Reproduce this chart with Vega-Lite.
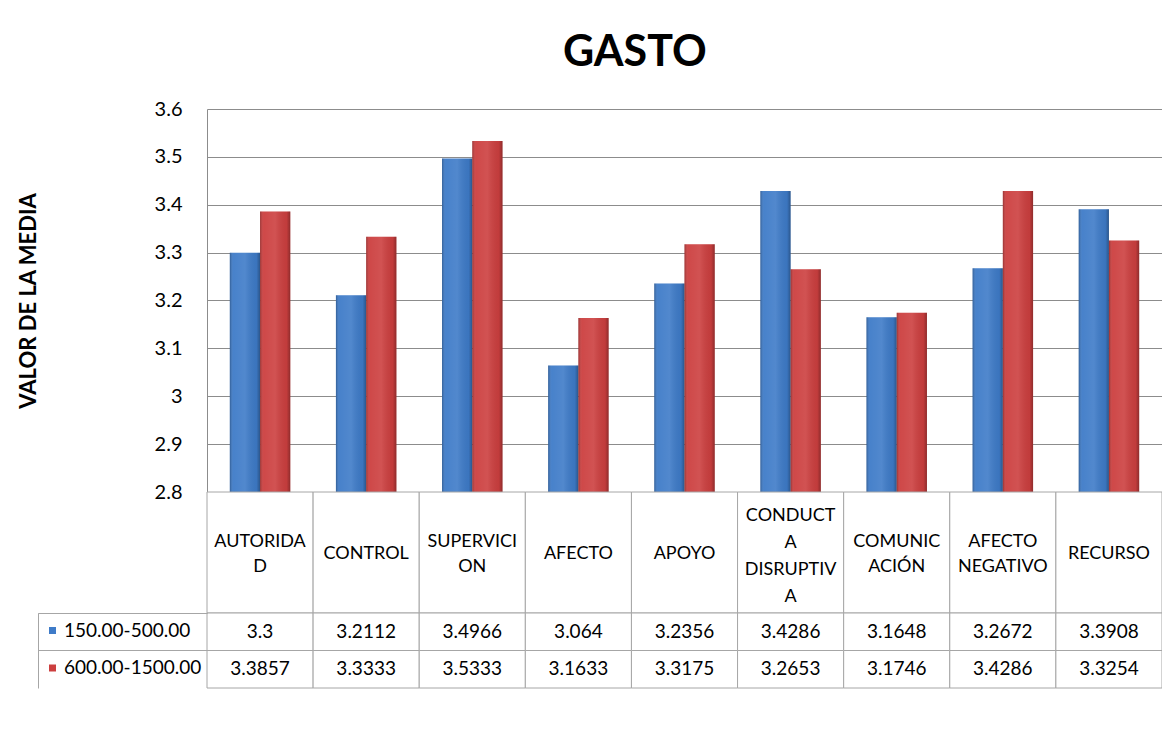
{
  "$schema": "https://vega.github.io/schema/vega-lite/v6.json",
  "background": "white",
  "padding": {"left": 17, "top": 32, "right": 0, "bottom": 0},
  "config": {"font": "Lato", "view": {"stroke": null}},
  "title": {"text": "GASTO", "fontSize": 43, "font": "Lato", "fontWeight": "bold", "color": "black", "anchor": "middle", "offset": 24, "dx": 45},
  "spacing": 0,
  "bounds": "flush",
  "datasets": {
    "medias": [
      {"categoria": "AUTORIDAD", "serie": "150.00-500.00", "valor": 3.3},
      {"categoria": "AUTORIDAD", "serie": "600.00-1500.00", "valor": 3.3857},
      {"categoria": "CONTROL", "serie": "150.00-500.00", "valor": 3.2112},
      {"categoria": "CONTROL", "serie": "600.00-1500.00", "valor": 3.3333},
      {"categoria": "SUPERVICION", "serie": "150.00-500.00", "valor": 3.4966},
      {"categoria": "SUPERVICION", "serie": "600.00-1500.00", "valor": 3.5333},
      {"categoria": "AFECTO", "serie": "150.00-500.00", "valor": 3.064},
      {"categoria": "AFECTO", "serie": "600.00-1500.00", "valor": 3.1633},
      {"categoria": "APOYO", "serie": "150.00-500.00", "valor": 3.2356},
      {"categoria": "APOYO", "serie": "600.00-1500.00", "valor": 3.3175},
      {"categoria": "CONDUCTA DISRUPTIVA", "serie": "150.00-500.00", "valor": 3.4286},
      {"categoria": "CONDUCTA DISRUPTIVA", "serie": "600.00-1500.00", "valor": 3.2653},
      {"categoria": "COMUNICACIÓN", "serie": "150.00-500.00", "valor": 3.1648},
      {"categoria": "COMUNICACIÓN", "serie": "600.00-1500.00", "valor": 3.1746},
      {"categoria": "AFECTO NEGATIVO", "serie": "150.00-500.00", "valor": 3.2672},
      {"categoria": "AFECTO NEGATIVO", "serie": "600.00-1500.00", "valor": 3.4286},
      {"categoria": "RECURSO", "serie": "150.00-500.00", "valor": 3.3908},
      {"categoria": "RECURSO", "serie": "600.00-1500.00", "valor": 3.3254}
    ],
    "categorias": [
      {"categoria": "AUTORIDAD", "etiqueta": "AUTORIDA\nD"},
      {"categoria": "CONTROL", "etiqueta": "CONTROL"},
      {"categoria": "SUPERVICION", "etiqueta": "SUPERVICI\nON"},
      {"categoria": "AFECTO", "etiqueta": "AFECTO"},
      {"categoria": "APOYO", "etiqueta": "APOYO"},
      {"categoria": "CONDUCTA DISRUPTIVA", "etiqueta": "CONDUCT\nA\nDISRUPTIV\nA"},
      {"categoria": "COMUNICACIÓN", "etiqueta": "COMUNIC\nACIÓN"},
      {"categoria": "AFECTO NEGATIVO", "etiqueta": "AFECTO\nNEGATIVO"},
      {"categoria": "RECURSO", "etiqueta": "RECURSO"}
    ]
  },
  "vconcat": [
    {
      "width": 955,
      "height": 383,
      "data": {"name": "medias"},
      "encoding": {
        "x": {"field": "categoria", "type": "nominal", "sort": null,
          "scale": {"domain": ["AUTORIDAD", "CONTROL", "SUPERVICION", "AFECTO", "APOYO", "CONDUCTA DISRUPTIVA", "COMUNICACIÓN", "AFECTO NEGATIVO", "RECURSO"], "paddingInner": 0.43, "paddingOuter": 0.215},
          "axis": null},
        "xOffset": {"field": "serie", "type": "nominal", "scale": {"domain": ["150.00-500.00", "600.00-1500.00"], "paddingInner": 0, "paddingOuter": 0}},
        "y": {"field": "valor", "type": "quantitative",
          "scale": {"domain": [2.8, 3.6], "zero": false, "nice": false},
          "axis": {"values": [2.8, 2.9, 3, 3.1, 3.2, 3.3, 3.4, 3.5, 3.6], "format": "~g", "grid": true, "gridColor": "#8c8c8c", "gridWidth": 1, "domain": true, "domainColor": "#8c8c8c", "ticks": false, "labelPadding": 25, "labelFontSize": 20, "labelColor": "#000000", "title": "VALOR DE LA MEDIA", "titleFontSize": 22, "titleFontWeight": "bold", "titleColor": "#000000", "titlePadding": 114}},
        "y2": {"datum": 2.8}
      },
      "layer": [
        {
          "mark": {"type": "bar"},
          "encoding": {
            "color": {"field": "serie", "type": "nominal",
              "scale": {"domain": ["150.00-500.00", "600.00-1500.00"], "range": ["#3e7bc8", "#cc3f3f"]},
              "legend": {"orient": "none", "legendX": -164, "legendY": 512, "title": null, "symbolType": "square", "symbolSize": 49, "symbolStrokeWidth": 0, "labelFontSize": 19, "labelOffset": 2, "labelColor": "#000000", "rowPadding": 17.5}}
          }
        },
        {
          "mark": {"type": "bar", "fill": {"gradient": "linear", "x1": 0, "y1": 0, "x2": 1, "y2": 0, "stops": [
            {"offset": 0, "color": "rgba(0,0,0,0.25)"},
            {"offset": 0.12, "color": "rgba(255,255,255,0.05)"},
            {"offset": 0.5, "color": "rgba(255,255,255,0.1)"},
            {"offset": 0.88, "color": "rgba(0,0,0,0.05)"},
            {"offset": 1, "color": "rgba(0,0,0,0.3)"}
          ]}}
        }
      ]
    },
    {
      "width": 955,
      "height": 121,
      "data": {"name": "categorias"},
      "encoding": {
        "x": {"field": "categoria", "type": "nominal", "sort": null,
          "scale": {"domain": ["AUTORIDAD", "CONTROL", "SUPERVICION", "AFECTO", "APOYO", "CONDUCTA DISRUPTIVA", "COMUNICACIÓN", "AFECTO NEGATIVO", "RECURSO"], "paddingInner": 0, "paddingOuter": 0},
          "axis": null}
      },
      "layer": [
        {"mark": {"type": "bar", "fill": "white", "stroke": "#a6a6a6", "strokeWidth": 1}},
        {"transform": [{"filter": "length(split(datum.etiqueta, '\\n')) == 1"}],
          "mark": {"type": "text", "lineBreak": "\n", "fontSize": 18, "lineHeight": 25, "baseline": "middle", "color": "#000000", "dy": 1},
          "encoding": {"text": {"field": "etiqueta"}}},
        {"transform": [{"filter": "length(split(datum.etiqueta, '\\n')) == 2"}],
          "mark": {"type": "text", "lineBreak": "\n", "fontSize": 18, "lineHeight": 25, "baseline": "middle", "color": "#000000", "dy": -11},
          "encoding": {"text": {"field": "etiqueta"}}},
        {"transform": [{"filter": "length(split(datum.etiqueta, '\\n')) == 4"}],
          "mark": {"type": "text", "lineBreak": "\n", "fontSize": 18, "lineHeight": 27, "baseline": "middle", "color": "#000000", "dy": -37},
          "encoding": {"text": {"field": "etiqueta"}}}
      ]
    },
    {
      "width": 955,
      "height": 75,
      "data": {"name": "medias"},
      "encoding": {
        "x": {"field": "categoria", "type": "nominal", "sort": null,
          "scale": {"domain": ["AUTORIDAD", "CONTROL", "SUPERVICION", "AFECTO", "APOYO", "CONDUCTA DISRUPTIVA", "COMUNICACIÓN", "AFECTO NEGATIVO", "RECURSO"], "paddingInner": 0, "paddingOuter": 0},
          "axis": null},
        "y": {"field": "serie", "type": "nominal",
          "scale": {"domain": ["150.00-500.00", "600.00-1500.00"], "paddingInner": 0, "paddingOuter": 0},
          "axis": {"orient": "left", "offset": 169, "tickSize": -169, "bandPosition": 0, "tickExtra": true, "labels": false, "title": null, "domain": true, "domainColor": "#a6a6a6", "tickColor": "#a6a6a6"}}
      },
      "layer": [
        {"mark": {"type": "rect", "fill": "white", "stroke": "#a6a6a6", "strokeWidth": 1}},
        {"mark": {"type": "text", "fontSize": 19, "color": "#000000"},
          "encoding": {"text": {"field": "valor", "type": "nominal"}}}
      ]
    }
  ]
}
